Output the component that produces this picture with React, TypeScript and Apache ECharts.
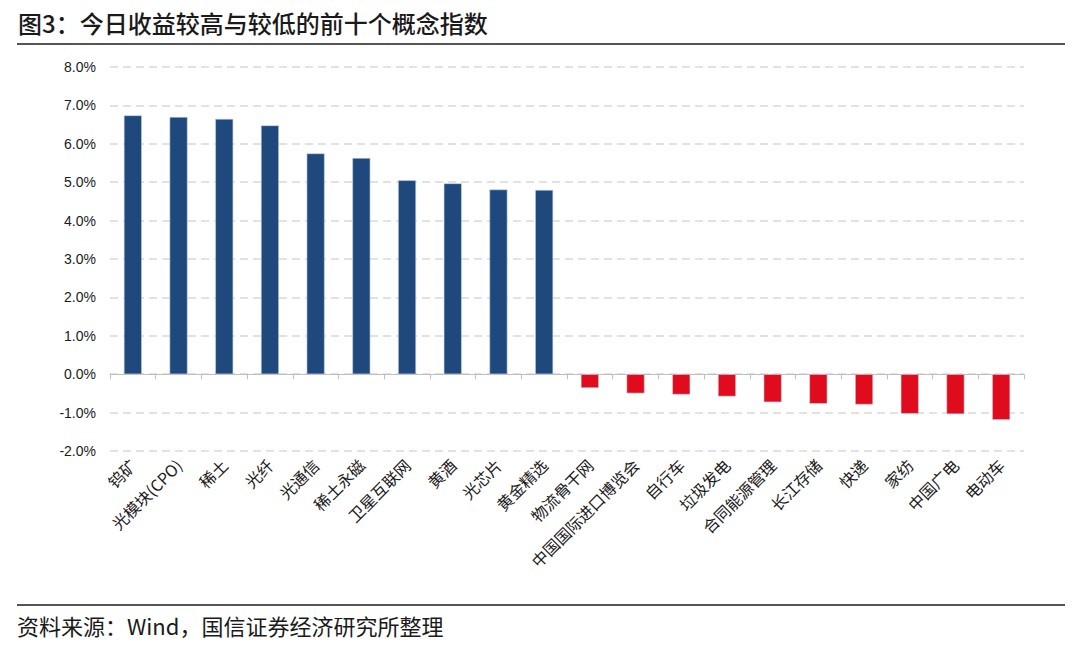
import React, { useEffect, useRef } from "react";
import * as echarts from "echarts";

const categories = [
  "钨矿", "光模块(CPO)", "稀土", "光纤", "光通信", "稀土永磁", "卫星互联网", "黄酒", "光芯片", "黄金精选",
  "物流骨干网", "中国国际进口博览会", "自行车", "垃圾发电", "合同能源管理", "长江存储", "快递", "家纺", "中国广电", "电动车",
];
const values = [
  6.74, 6.70, 6.65, 6.48, 5.75, 5.63, 5.05, 4.97, 4.81, 4.80,
  -0.36, -0.50, -0.53, -0.58, -0.73, -0.77, -0.79, -1.03, -1.04, -1.19,
];
const titleText = "图3：今日收益较高与较低的前十个概念指数";
const sourceText = "资料来源：Wind，国信证券经济研究所整理";

export default function App() {
  const ref = useRef<HTMLDivElement>(null);
  useEffect(() => {
    if (!ref.current) return;
    const chart = echarts.init(ref.current, null, { renderer: "svg" });
    chart.setOption({
      animation: false,
      backgroundColor: "#ffffff",
      grid: { left: 110, right: 56, top: 67, bottom: 198, containLabel: false },
      graphic: [
        {
          type: "text", left: 18, top: 10,
          style: { text: titleText, font: '500 24px "Noto Sans CJK SC", sans-serif', fill: "#1a1a1a" },
        },
        {
          type: "line", shape: { x1: 17, y1: 44, x2: 1065, y2: 44 },
          style: { stroke: "#555555", lineWidth: 2 },
        },
        {
          type: "line", shape: { x1: 17, y1: 605, x2: 1065, y2: 605 },
          style: { stroke: "#555555", lineWidth: 2 },
        },
        {
          type: "text", left: 17, top: 614,
          style: { text: sourceText, font: '22px "Noto Sans CJK SC", sans-serif', fill: "#1a1a1a" },
        },
      ],
      xAxis: {
        type: "category",
        data: categories,
        axisLine: { onZero: true, lineStyle: { color: "#bfbfbf", width: 1 } },
        axisTick: { show: true, alignWithLabel: false, length: 5, lineStyle: { color: "#bfbfbf" } },
        axisLabel: {
          rotate: 45, interval: 0, color: "#1a1a1a", fontSize: 16, margin: 11,
          fontFamily: '"Noto Sans CJK SC", sans-serif',
        },
      },
      yAxis: {
        type: "value",
        min: -2, max: 8, interval: 1,
        axisLine: { show: false },
        axisTick: { show: false },
        axisLabel: {
          formatter: (v: number) => v.toFixed(1) + "%",
          color: "#1a1a1a", fontSize: 14, margin: 14, fontFamily: "Arial, Liberation Sans, sans-serif",
        },
        splitLine: { lineStyle: { color: "#d9d9d9", type: [8, 5], width: 1.5 } },
      },
      series: [
        {
          type: "bar",
          data: values.map((v) => ({
            value: v,
            itemStyle: { color: v >= 0 ? "#1f497d" : "#e00b1c" },
          })),
          barWidth: 18,
          itemStyle: { borderColor: "#c9d3e0", borderWidth: 0.6 },
        },
      ],
    });
    return () => chart.dispose();
  }, []);
  return <div ref={ref} style={{ width: 1080, height: 649, position: "absolute", left: 0, top: 0 }} />;
}
